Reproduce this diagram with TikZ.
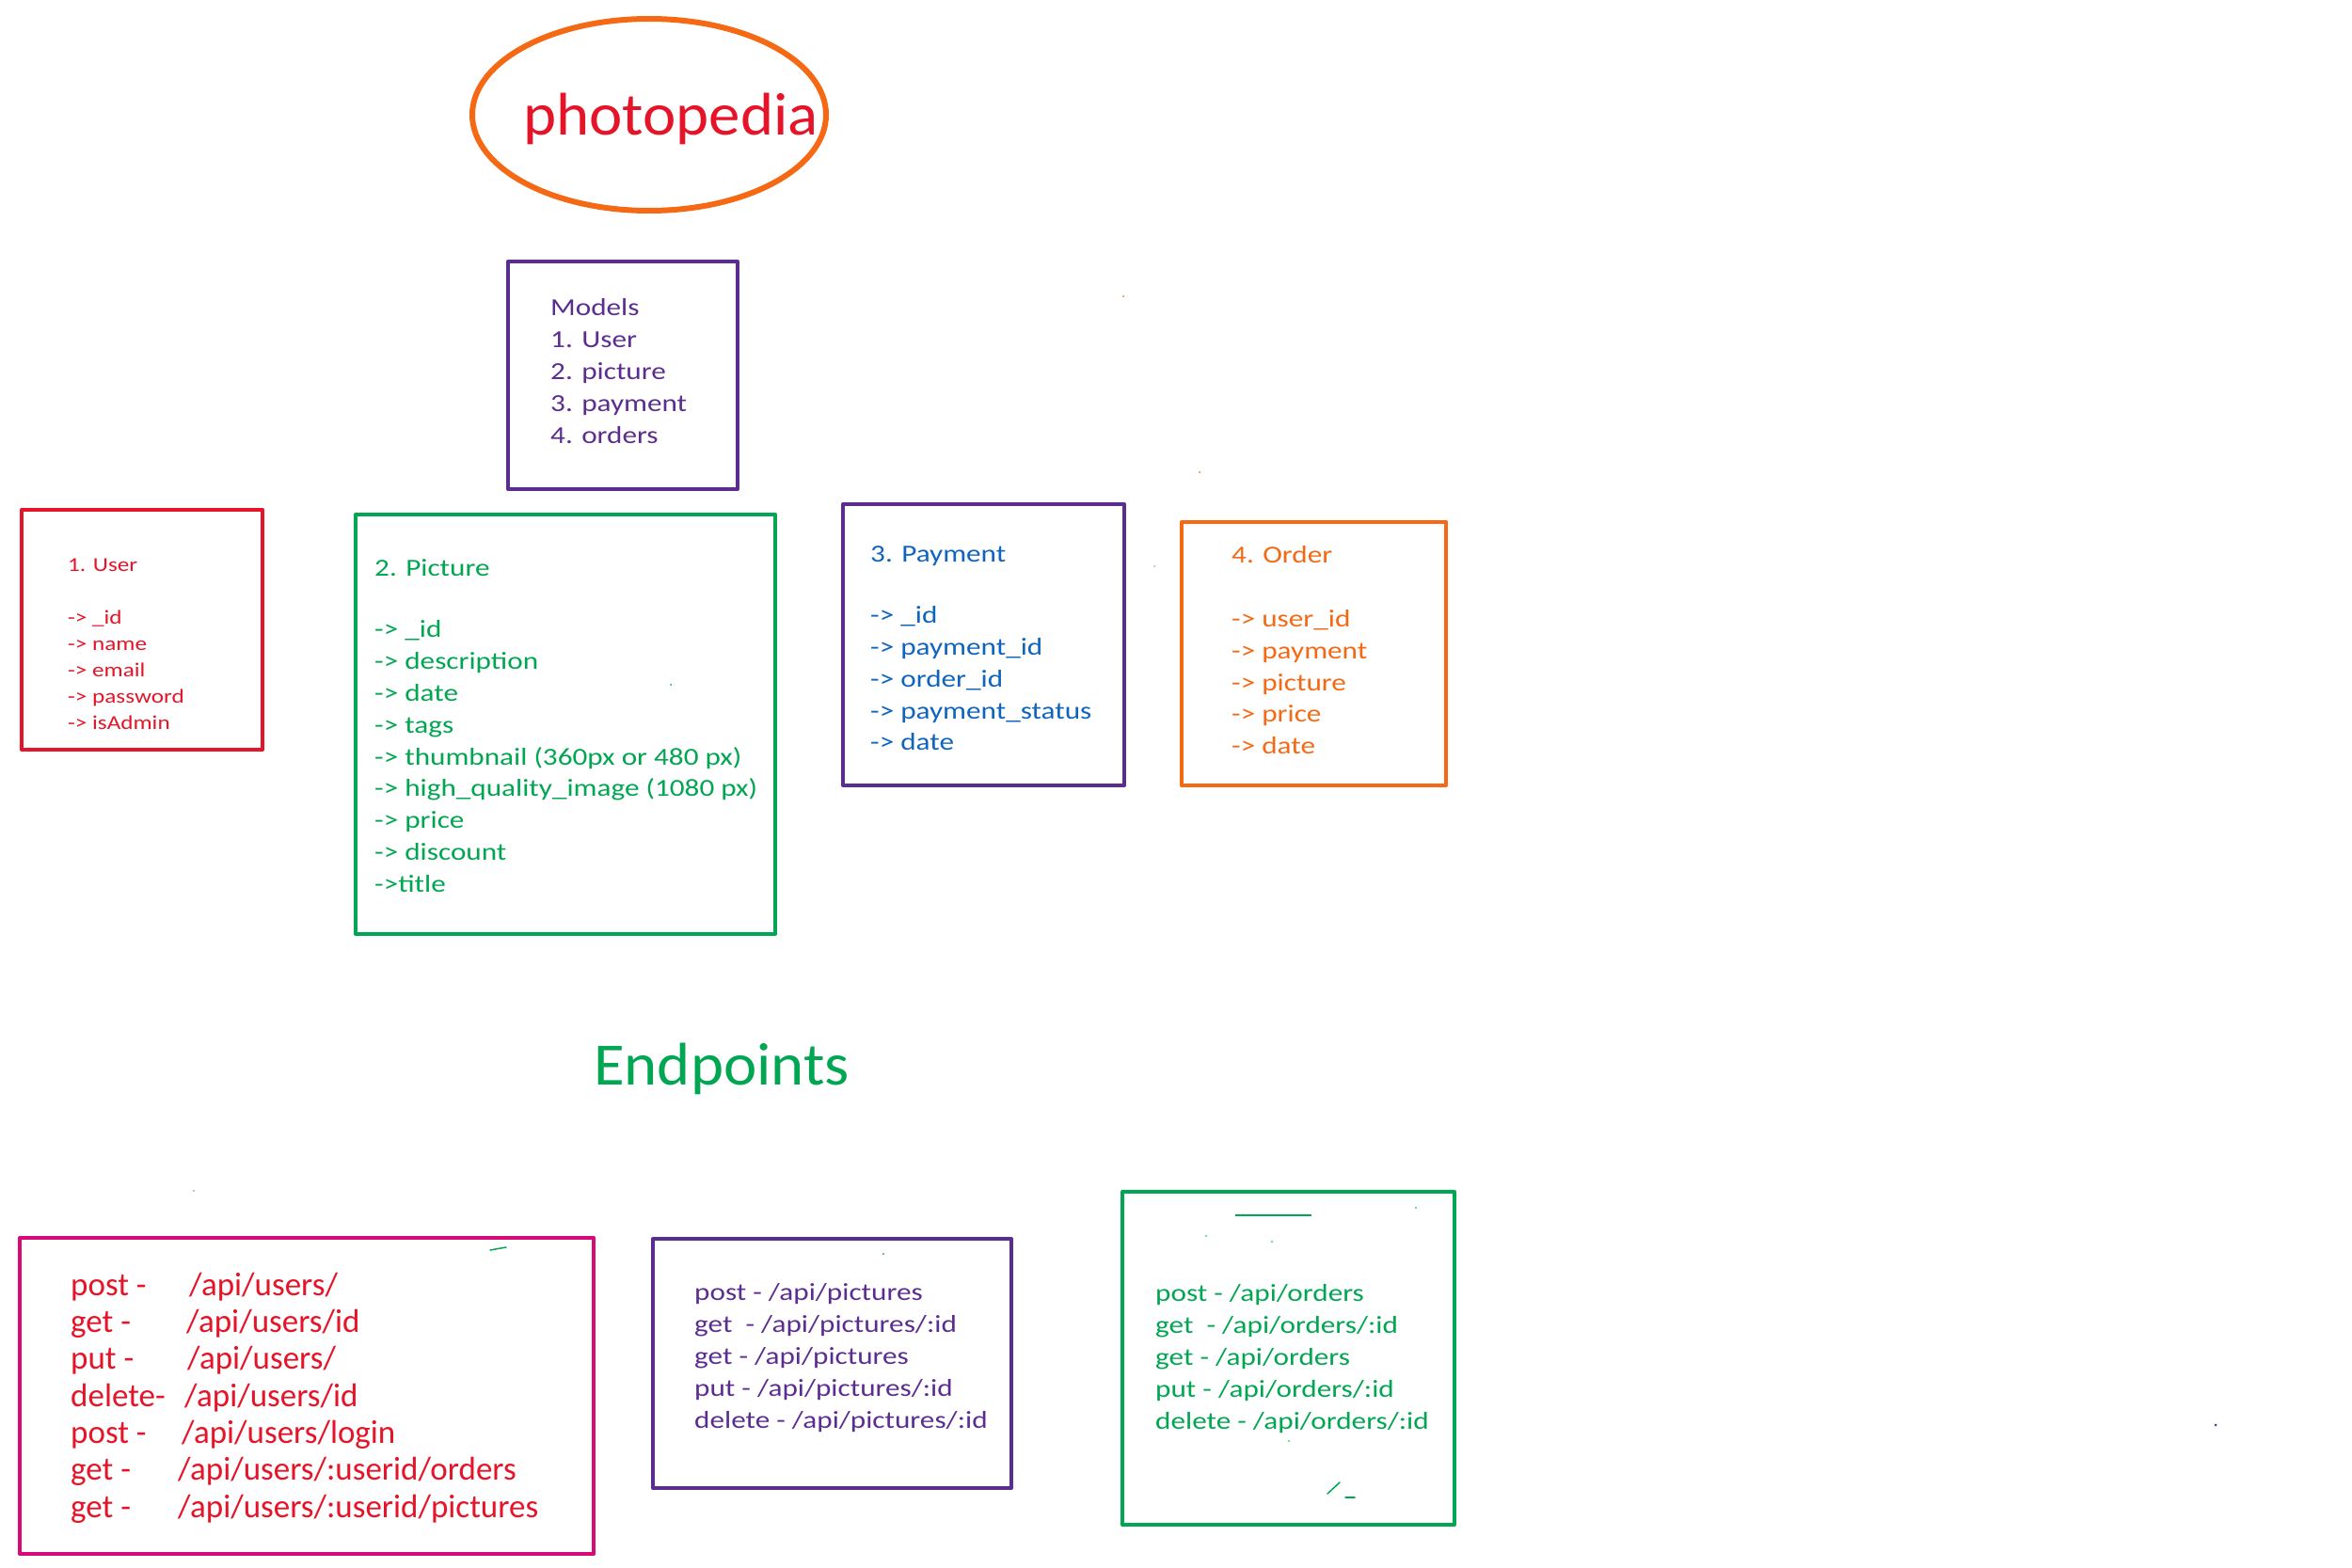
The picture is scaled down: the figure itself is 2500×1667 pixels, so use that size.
\documentclass[tikz,border=0pt]{standalone}
\usepackage{fontspec}
\setmainfont{Carlito}
\newfontfamily\hand[FakeStretch=1.2]{Carlito}
\newfontfamily\handn{Carlito}
\newfontfamily\handt[FakeStretch=1.045]{Carlito}
\usetikzlibrary{shapes.geometric}
\definecolor{cred}{RGB}{230,20,40}
\definecolor{corange}{RGB}{245,105,20}
\definecolor{cpurple}{RGB}{92,45,145}
\definecolor{cgreen}{RGB}{0,166,81}
\definecolor{cblue}{RGB}{15,100,190}
\definecolor{cmagenta}{RGB}{214,10,120}
\tikzset{
  frame/.style={draw=#1, line width=4pt, line join=round, line cap=round, inner sep=0pt, anchor=north west},
  txt/.style={anchor=north west, inner sep=0pt, align=left},
  speck/.style={line width=1.5pt, line cap=round},
}
\begin{document}
\begin{tikzpicture}[x=1pt,y=-1pt]
\useasboundingbox[fill=white] (0,0) rectangle (2500,1667);

% title
\node[ellipse, draw=corange, line width=6pt, minimum width=376pt, minimum height=204pt, inner sep=0pt] (title) at (690,122) {};
\node[anchor=base west, inner sep=0pt, text=cred, font=\handt\fontsize{64}{70}\selectfont] (titletext) at (556,143) {photopedia};

% models
\node[frame=cpurple, minimum width=244pt, minimum height=242pt] (models) at (538,276) {};
\node[txt, text=cpurple, font=\hand\fontsize{26}{34}\selectfont] (modelstext) at (585,311.2)
{\strut Models\\1. User\\2. picture\\3. payment\\4. orders};

% user
\node[frame=cred, minimum width=256pt, minimum height=255pt] (user) at (21,540) {};
\node[txt, text=cred, font=\hand\fontsize{21}{28}\selectfont] (usertext) at (72,587.4)
{\strut 1. User\\[28pt]-> \_id\\-> name\\-> email\\-> password\\-> isAdmin};

% picture
\node[frame=cgreen, minimum width=446pt, minimum height=446pt] (picture) at (376,545) {};
\node[txt, text=cgreen, font=\hand\fontsize{26}{33.8}\selectfont] (picturetext) at (398,588.3)
{\strut 2. Picture\\[32pt]-> \_id\\-> description\\-> date\\-> tags\\-> thumbnail (360px or 480 px)\\-> high\_quality\_image (1080 px)\\-> price\\-> discount\\->title};

% payment
\node[frame=cpurple, minimum width=299pt, minimum height=299pt] (payment) at (894,534) {};
\node[txt, text=cblue, font=\hand\fontsize{26}{33.75}\selectfont] (paymenttext) at (925,573.4)
{\strut 3. Payment\\[32pt]-> \_id\\-> payment\_id\\-> order\_id\\-> payment\_status\\-> date};

% order
\node[frame=corange, minimum width=281pt, minimum height=280pt] (order) at (1254,553) {};
\node[txt, text=corange, font=\hand\fontsize{26}{33.7}\selectfont] (ordertext) at (1309,574.4)
{\strut 4. Order\\[35pt]-> user\_id\\-> payment\\-> picture\\-> price\\-> date};

% endpoints heading
\node[anchor=base west, inner sep=0pt, text=cgreen, font=\handt\fontsize{64}{70}\selectfont] (endpoints) at (631,1153) {Endpoints};

% users endpoints
\node[frame=cmagenta, minimum width=610pt, minimum height=336pt] (usersep) at (19,1314) {};
\node[txt, text=cred, font=\handn\fontsize{35}{39.3}\selectfont] (usersepText) at (75,1349.5)
{\strut\makebox[126pt][l]{post -}/api/users/\\
\makebox[123pt][l]{get -}/api/users/id\\
\makebox[124pt][l]{put -}/api/users/\\
\makebox[121pt][l]{delete-}/api/users/id\\
\makebox[118pt][l]{post -}/api/users/login\\
\makebox[114pt][l]{get -}/api/users/:userid/orders\\
\makebox[114pt][l]{get -}/api/users/:userid/pictures};

% pictures endpoints
\node[frame=cpurple, minimum width=381pt, minimum height=265pt] (picturesep) at (692,1315) {};
\node[txt, text=cpurple, font=\hand\fontsize{26}{34}\selectfont] (picturesepText) at (738,1358.2)
{\strut post - /api/pictures\\get\ \ - /api/pictures/:id\\get - /api/pictures\\put - /api/pictures/:id\\delete - /api/pictures/:id};

% orders endpoints
\node[frame=cgreen, minimum width=353pt, minimum height=354pt] (ordersep) at (1191,1265) {};
\node[txt, text=cgreen, font=\hand\fontsize{26}{34}\selectfont] (ordersepText) at (1228,1359.2)
{\strut post - /api/orders\\get\ \ - /api/orders/:id\\get - /api/orders\\put - /api/orders/:id\\delete - /api/orders/:id};

% stray marks
\draw[cgreen, line width=1.5pt] (1313,1292) -- (1394,1292);
\draw[cgreen, speck] (1411,1588) -- (1424,1576);
\draw[cgreen, speck] (1430,1592) -- (1440,1592);
\draw[cgreen, speck] (521,1329) -- (538,1326);
\fill[corange] (1194,315) circle (1pt);
\fill[corange] (1275,502) circle (1pt);
\fill[brown!70] (1227,602) circle (1pt);
\fill[cgreen] (713,728) circle (1pt);
\fill[gray] (206,1266) circle (0.8pt);
\fill[cgreen] (939,1333) circle (1pt);
\fill[cpurple] (2355,1515) circle (1.5pt);
\fill[cgreen] (1505,1284) circle (0.8pt);
\fill[cgreen] (1282,1314) circle (0.8pt);
\fill[cgreen] (1352,1320) circle (0.8pt);
\fill[cgreen] (1370,1532) circle (0.8pt);
\end{tikzpicture}
\end{document}
